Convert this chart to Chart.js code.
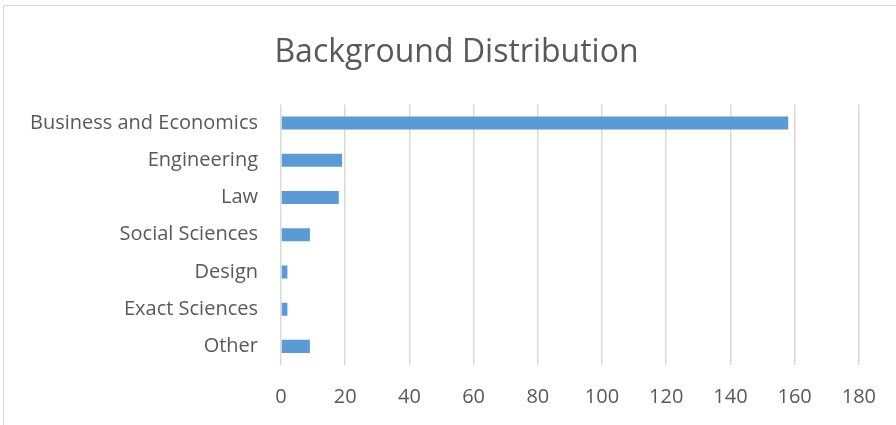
<!DOCTYPE html>
<html>
<head>
<meta charset="utf-8">
<script src="https://cdn.jsdelivr.net/npm/chart.js@4"></script>
<style>
  body { margin: 0; background: #fff; }
  #frame { position: absolute; left: 3px; top: 5px; width: 1000px; height: 600px;
           border-left: 1px solid #d9d9d9; border-top: 1px solid #d9d9d9; }
  #wrap { position: absolute; left: 0; top: 0; width: 896px; height: 425px; }
</style>
</head>
<body>
<div id="frame"></div>
<div id="wrap"><canvas id="chart" width="896" height="425"></canvas></div>
<script>
const categories = ["Business and Economics", "Engineering", "Law", "Social Sciences", "Design", "Exact Sciences", "Other"];
const counts = [158, 19, 18, 9, 2, 2, 9];
const xTicks = [0, 20, 40, 60, 80, 100, 120, 140, 160, 180];

const fontFamily = "'Open Sans', sans-serif";
const textColor = "#595959";

// nudge the title a little right, like the original
const titleShift = {
    id: "titleShift",
    afterLayout(chart) {
        if (chart.titleBlock) {
            chart.titleBlock.left += 6;
            chart.titleBlock.right += 6;
        }
    }
};

new Chart(document.getElementById("chart"), {
    type: "bar",
    data: {
        labels: categories,
        datasets: [
            {
                label: "Count",
                data: counts,
                backgroundColor: "#5b9bd5",
                borderWidth: 0,
                barPercentage: 0.35,
                categoryPercentage: 1
            }
        ]
    },
    options: {
        indexAxis: "y",
        responsive: false,
        animation: false,
        layout: { padding: { left: 20, right: 15, top: 10, bottom: 16 } },
        scales: {
            x: {
                min: xTicks[0],
                max: xTicks[xTicks.length - 1],
                afterBuildTicks: axis => { axis.ticks = xTicks.map(v => ({ value: v })); },
                afterFit: axis => { axis.height = 44; },
                ticks: { color: textColor, font: { family: fontFamily, size: 20 }, padding: 20 },
                grid: { color: "#d9d9d9", lineWidth: 1.5, drawTicks: false },
                border: { display: false }
            },
            y: {
                afterFit: axis => {
                    axis.width = 261;
                    axis.paddingTop = 0;
                    axis.paddingBottom = 0;
                },
                ticks: { color: textColor, font: { family: fontFamily, size: 20 }, padding: 15 },
                grid: { display: false },
                border: { display: false }
            }
        },
        plugins: {
            legend: { display: false },
            tooltip: { enabled: false },
            title: {
                display: true,
                text: "Background Distribution",
                color: textColor,
                font: { family: fontFamily, size: 32, weight: "normal" },
                padding: { top: 24, bottom: 32 }
            }
        }
    },
    plugins: [titleShift]
});
</script>
</body>
</html>
